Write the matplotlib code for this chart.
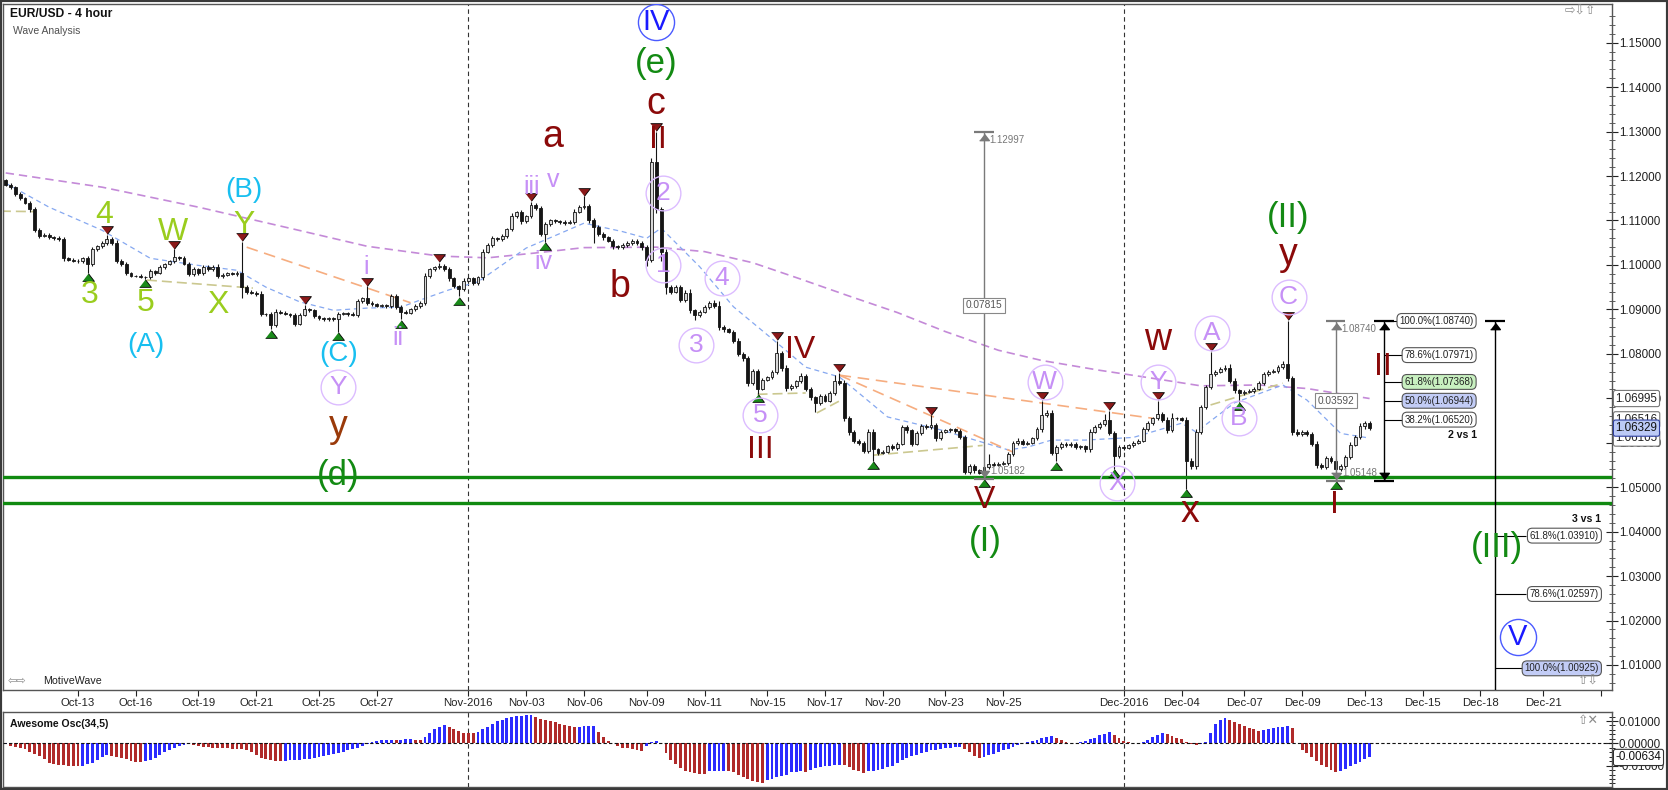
import numpy as np
import pandas as pd
import matplotlib
matplotlib.use("Agg")
import matplotlib.pyplot as plt
from matplotlib import transforms

plt.rcParams['font.family'] = ['Liberation Sans', 'DejaVu Sans']

W, H = 1668, 790

# ---------------- data ----------------
first_open = 1.1190
close = np.array([
    1.1180, 1.1175, 1.1160, 1.1150, 1.1140, 1.1125, 1.1078, 1.1065, 1.1068, 1.1062,
    1.1060, 1.1058, 1.1015, 1.1012, 1.1010, 1.1008, 1.1015, 1.1002, 1.1035, 1.1042,
    1.1050, 1.1058, 1.1050, 1.1010, 1.1002, 1.0982, 1.0975, 1.0976, 1.0974, 1.0973,
    1.0986, 1.0982, 1.0995, 1.1002, 1.1008, 1.1018, 1.1015, 1.1003, 1.0980, 1.0990,
    1.0982, 1.0995, 1.0990, 1.0996, 1.0975, 1.0978, 1.0982, 1.0980, 1.0983, 1.0950,
    1.0940, 1.0938, 1.0935, 1.0890, 1.0890, 1.0865, 1.0895, 1.0893, 1.0890, 1.0888,
    1.0868, 1.0888, 1.0900, 1.0898, 1.0885, 1.0880, 1.0878, 1.0880, 1.0878, 1.0890,
    1.0892, 1.0890, 1.0888, 1.0918, 1.0925, 1.0915, 1.0912, 1.0908, 1.0910, 1.0908,
    1.0930, 1.0905, 1.0895, 1.0893, 1.0900, 1.0908, 1.0915, 1.0975, 1.0990, 1.0995,
    1.0998, 1.0990, 1.0970, 1.0952, 1.0945, 1.0965, 1.0970, 1.0960, 1.0972, 1.1030,
    1.1045, 1.1060, 1.1058, 1.1065, 1.1080, 1.1110, 1.1118, 1.1098, 1.1110, 1.1135,
    1.1128, 1.1070, 1.1092, 1.1100, 1.1098, 1.1096, 1.1094, 1.1097, 1.1120, 1.1130,
    1.1132, 1.1100, 1.1085, 1.1070, 1.1062, 1.1055, 1.1042, 1.1040, 1.1045, 1.1050,
    1.1055, 1.1050, 1.1040, 1.1012, 1.1232, 1.1125, 1.1030, 1.0950, 1.0940, 1.0950,
    1.0922, 1.0938, 1.0898, 1.0888, 1.0895, 1.0905, 1.0915, 1.0908, 1.0860, 1.0855,
    1.0850, 1.0830, 1.0800, 1.0790, 1.0735, 1.0762, 1.0722, 1.0742, 1.0748, 1.0760,
    1.0802, 1.0768, 1.0723, 1.0728, 1.0738, 1.0750, 1.0722, 1.0702, 1.0690, 1.0705,
    1.0695, 1.0712, 1.0738, 1.0735, 1.0655, 1.0624, 1.0605, 1.0600, 1.0582, 1.0625,
    1.0585, 1.0578, 1.0580, 1.0592, 1.0588, 1.0598, 1.0635, 1.0628, 1.0598, 1.0622,
    1.0638, 1.0635, 1.0640, 1.0610, 1.0625, 1.0628, 1.0630, 1.0626, 1.0612, 1.0535,
    1.0548, 1.0538, 1.0533, 1.0545, 1.0552, 1.0550, 1.0553, 1.0555, 1.0575, 1.0600,
    1.0605, 1.0598, 1.0600, 1.0610, 1.0630, 1.0662, 1.0668, 1.0578, 1.0590, 1.0598,
    1.0595, 1.0598, 1.0590, 1.0592, 1.0585, 1.0625, 1.0635, 1.0642, 1.0652, 1.0622,
    1.0570, 1.0590, 1.0588, 1.0594, 1.0600, 1.0605, 1.0630, 1.0645, 1.0655, 1.0665,
    1.0652, 1.0628, 1.0655, 1.0655, 1.0652, 1.0560, 1.0547, 1.0625, 1.0680, 1.0725,
    1.0755, 1.0760, 1.0765, 1.0768, 1.0740, 1.0718, 1.0712, 1.0715, 1.0716, 1.0722,
    1.0735, 1.0755, 1.0760, 1.0762, 1.0770, 1.0778, 1.0745, 1.0625, 1.0620, 1.0624,
    1.0620, 1.0598, 1.0550, 1.0545, 1.0565, 1.0560, 1.0540, 1.0548, 1.0568, 1.0596,
    1.0612, 1.0637, 1.0645, 1.06329,
])

# wick lengths in pips above the body top / below the body bottom
up_wick = np.array([
    3, 4, 3, 5, 3, 4, 6, 4, 3, 4, 3, 4, 5, 3, 4, 3, 4, 5, 6, 4,
    4, 10, 4, 6, 3, 5, 3, 2, 3, 2, 4, 3, 5, 3, 4, 17, 3, 5, 4, 5,
    3, 5, 4, 5, 6, 3, 3, 2, 3, 69, 5, 4, 4, 6, 3, 5, 5, 3, 3, 3,
    5, 4, 10, 3, 4, 3, 2, 3, 3, 4, 3, 3, 4, 5, 4, 27, 4, 3, 3, 3,
    4, 5, 4, 3, 3, 4, 4, 6, 4, 3, 7, 4, 5, 4, 4, 5, 3, 4, 4, 6,
    5, 4, 3, 4, 4, 6, 4, 5, 3, 7, 4, 5, 5, 3, 3, 3, 4, 3, 5, 4,
    23, 5, 6, 4, 4, 3, 4, 3, 4, 3, 4, 4, 4, 5, 8, 68, 6, 5, 4, 6,
    5, 6, 7, 4, 4, 5, 5, 6, 10, 4, 3, 4, 5, 4, 6, 5, 5, 4, 3, 4,
    28, 5, 6, 4, 4, 8, 5, 4, 4, 5, 4, 5, 14, 20, 6, 5, 4, 4, 5, 5,
    6, 4, 3, 4, 5, 4, 6, 4, 4, 5, 4, 5, 22, 5, 4, 3, 3, 4, 4, 5,
    5, 4, 4, 6, 23, 4, 3, 3, 4, 5, 6, 4, 3, 4, 5, 33, 5, 6, 5, 4,
    4, 3, 4, 3, 4, 5, 4, 4, 13, 20, 5, 4, 3, 3, 4, 4, 5, 4, 4, 30,
    5, 5, 13, 4, 4, 5, 5, 6, 5, 5, 50, 4, 5, 6, 10, 5, 4, 3, 4, 4,
    5, 4, 4, 5, 4, 5, 96, 6, 5, 4, 4, 5, 5, 4, 6, 5, 4, 4, 4, 5,
    5, 8, 5, 4,
])
dn_wick = np.array([
    3, 4, 4, 3, 4, 5, 4, 5, 3, 4, 3, 4, 5, 4, 3, 4, 3, 20, 4, 3,
    3, 4, 4, 5, 4, 5, 3, 3, 3, 4, 4, 4, 3, 4, 3, 4, 4, 4, 5, 4,
    5, 4, 3, 4, 5, 4, 3, 3, 4, 25, 5, 4, 4, 5, 4, 10, 4, 3, 3, 4,
    5, 4, 3, 4, 4, 3, 3, 3, 3, 28, 3, 4, 3, 4, 3, 4, 4, 3, 3, 4,
    4, 5, 17, 4, 4, 3, 4, 4, 4, 3, 3, 4, 5, 4, 15, 4, 4, 5, 4, 5,
    4, 4, 4, 3, 4, 4, 5, 6, 4, 4, 5, 6, 18, 4, 3, 3, 4, 3, 4, 4,
    4, 6, 35, 5, 5, 4, 5, 4, 3, 4, 4, 5, 6, 14, 6, 8, 20, 15, 5, 4,
    6, 5, 6, 12, 4, 4, 4, 5, 6, 5, 4, 6, 5, 6, 7, 5, 12, 4, 4, 4,
    5, 6, 6, 4, 4, 4, 6, 5, 20, 4, 4, 4, 4, 5, 6, 6, 5, 4, 6, 5,
    25, 5, 4, 4, 4, 4, 4, 5, 6, 4, 4, 4, 4, 5, 4, 3, 3, 3, 4, 5,
    5, 5, 4, 14, 4, 3, 3, 3, 4, 5, 4, 4, 4, 3, 4, 5, 5, 6, 20, 4,
    4, 4, 5, 4, 5, 5, 4, 3, 4, 5, 28, 4, 4, 3, 4, 3, 4, 4, 4, 4,
    5, 6, 4, 3, 4, 63, 5, 6, 5, 5, 5, 4, 4, 4, 6, 5, 20, 4, 3, 4,
    4, 4, 4, 3, 4, 4, 6, 8, 5, 4, 5, 6, 6, 5, 4, 5, 25, 4, 4, 5,
    4, 4, 5, 4,
])

# Awesome Oscillator (34,5), in units of 0.0001
ao = np.array([
    -5, -12, -17, -22, -27, -37, -47, -57, -72, -87,
    -92, -97, -99, -100, -101, -102, -100, -94, -87, -76,
    -62, -54, -55, -60, -64, -72, -79, -83, -84, -80,
    -74, -64, -52, -40, -28, -19, -10, -6, -5, -9,
    -13, -16, -18, -19, -20, -21, -22, -24, -25, -27,
    -32, -40, -52, -65, -72, -77, -80, -81, -79, -77,
    -76, -74, -72, -69, -65, -61, -58, -53, -47, -42,
    -37, -31, -25, -19, -10, -2, 6, 12, 14, 16,
    17, 16, 17, 19, 20, 17, 15, 30, 48, 63,
    72, 80, 72, 62, 53, 48, 45, 44, 50, 62,
    74, 88, 98, 106, 114, 118, 122, 124, 125, 126,
    118, 110, 104, 100, 95, 88, 82, 78, 74, 75,
    76, 77, 78, 50, 30, 10, 0, -10, -19, -23,
    -27, -30, -34, -12, 5, 10, 0, -42, -75, -94,
    -110, -125, -130, -134, -136, -137, -125, -124, -123, -122,
    -126, -130, -140, -150, -160, -168, -173, -176, -165, -158,
    -152, -146, -140, -130, -127, -126, -128, -120, -113, -108,
    -104, -101, -99, -97, -98, -108, -118, -126, -132, -126,
    -122, -120, -115, -108, -100, -88, -76, -66, -58, -51,
    -45, -38, -32, -28, -25, -22, -20, -17, -15, -25,
    -40, -55, -67, -60, -53, -46, -40, -32, -24, -16,
    -9, 2, 8, 12, 17, 25, 30, 33, 22, 14,
    8, 3, 2, 7, 12, 18, 26, 35, 43, 50,
    35, 22, 12, 7, 3, 2, 7, 17, 27, 36,
    45, 42, 33, 26, 18, 5, -4, -9, -3, 7,
    45, 85, 104, 112, 104, 95, 85, 78, 68, 62,
    57, 60, 63, 67, 72, 75, 78, 67, 3, -30,
    -45, -60, -80, -97, -108, -120, -127, -126, -115, -104,
    -95, -82, -72, -63.4,
]) * 1e-4

# moving averages (sampled along the dashed curves)
ma_slow_idx = [0, 20, 40, 60, 75, 90, 100, 110, 120, 135, 145, 155, 165, 175,
               185, 195, 206, 215, 227, 238, 248, 260, 270, 283]
ma_slow = [1.1207, 1.1175, 1.1130, 1.1080, 1.1042, 1.1020, 1.1016, 1.1027, 1.1039,
           1.1040, 1.1030, 1.1005, 1.0968, 1.0930, 1.0893, 1.0850, 1.0808, 1.0785,
           1.0763, 1.0745, 1.0728, 1.0730, 1.0722, 1.06995]
ma_fast_idx = [0, 9, 20, 30, 40, 48, 54, 61, 68, 75, 82, 86, 92, 98, 108, 120, 128,
               133, 136, 144, 151, 161, 166, 173, 183, 194, 203, 208, 212, 217, 224,
               234, 244, 247, 255, 265, 270, 277, 283]
ma_fast = [1.1184, 1.1130, 1.1078, 1.1015, 1.0999, 1.0988, 1.0950, 1.0917, 1.0898,
           1.0903, 1.0905, 1.0921, 1.0944, 1.0962, 1.1038, 1.1094, 1.1075, 1.1060,
           1.1083, 1.0996, 1.0906, 1.0816, 1.0770, 1.0748, 1.0658, 1.0629, 1.0600,
           1.0584, 1.0590, 1.0606, 1.0606, 1.0612, 1.0644, 1.0624, 1.0690, 1.0730,
           1.0696, 1.0621, 1.06105]

# hand drawn trend lines (index, price) pairs
resistance_lines = [((50, 1.1040), (84, 1.0915)),
                    ((173, 1.0752), (209, 1.0579)),
                    ((173, 1.0752), (238, 1.0655))]
support_lines = [((-1, 1.1121), (6, 1.1120)),
                 ((29.3, 1.0966), (51.3, 1.0948)),
                 ((156, 1.0709), (166, 1.0712)),
                 ((168.3, 1.0667), (173.7, 1.0698)),
                 ((180, 1.0572), (202.7, 1.0594)),
                 ((250, 1.0685), (265, 1.0734))]

peaks = [21, 35, 49, 62, 75, 90, 109, 120, 135, 160, 173, 192, 215, 229, 239, 250, 266]
troughs = [17, 29, 55, 69, 82, 94, 112, 156, 180, 203, 218, 230, 245, 256, 276]

zone_levels = [1.0522, 1.0464]

wave_top, wave1_low = 1.12997, 1.05182
wave2_top, last_low = 1.08740, 1.05148
wave1_low_idx, last_low_idx = 203, 276
retrace_levels = [1.0, 0.786, 0.618, 0.5, 0.382]
extend_levels = [0.618, 0.786, 1.0]

right_tags = [1.06995, 1.06516, 1.06105]

tick_dates = ['2016-10-13', '2016-10-16', '2016-10-19', '2016-10-21', '2016-10-25',
              '2016-10-27', '2016-11-01', '2016-11-03', '2016-11-06', '2016-11-09',
              '2016-11-11', '2016-11-15', '2016-11-17', '2016-11-20', '2016-11-23',
              '2016-11-25', '2016-12-01', '2016-12-04', '2016-12-07', '2016-12-09',
              '2016-12-13', '2016-12-15', '2016-12-18', '2016-12-21', '2016-12-23']
month_starts = ['2016-11-01', '2016-12-01']

# wave labels: text, candle index, price, style
wave_labels = [
    ("3", 17.5, 1.0932, 'yg'), ("4", 20.4, 1.1112, 'yg'), ("5", 29.1, 1.0914, 'yg'),
    ("W", 34.7, 1.1074, 'yg'), ("X", 44.0, 1.0910, 'yg'), ("Y", 49.4, 1.1090, 'yg'),
    ("(B)", 49.4, 1.1168, 'cy'), ("(A)", 29.1, 1.0820, 'cy'), ("(C)", 69.0, 1.0800, 'cy'),
    ("Y", 69.0, 1.0725, 'vc'), ("y", 69.0, 1.0636, 'br'), ("(d)", 69.0, 1.0527, 'gr'),
    ("i", 74.8, 1.0995, 'vi'), ("ii", 81.4, 1.0836, 'vi'), ("iii", 109.2, 1.1175, 'vi'),
    ("v", 113.5, 1.1190, 'vi'), ("iv", 111.5, 1.1007, 'vi'),
    ("a", 113.5, 1.1288, 'dr'), ("b", 127.5, 1.0950, 'dr'), ("c", 134.9, 1.1362, 'dr'),
    ("II", 135.3, 1.1281, 'dR'), ("(e)", 134.9, 1.1454, 'gr'), ("IV", 134.9, 1.1547, 'bc'),
    ("2", 136.4, 1.1162, 'vc'), ("1", 136.4, 1.1000, 'vc'), ("3", 143.2, 1.0820, 'vc'),
    ("4", 148.6, 1.0971, 'vc'), ("5", 156.5, 1.0662, 'vc'),
    ("III", 156.5, 1.0584, 'dR'), ("IV", 164.8, 1.0809, 'dR'), ("V", 203.2, 1.0471, 'dR'),
    ("(I)", 203.2, 1.0377, 'gr'),
    ("W", 215.6, 1.0737, 'vc'), ("X", 230.6, 1.0510, 'vc'), ("w", 239.1, 1.0831, 'dr'),
    ("Y", 239.1, 1.0737, 'vc'), ("x", 245.7, 1.0445, 'dr'),
    ("A", 250.3, 1.0847, 'vc'), ("B", 255.9, 1.0656, 'vc'), ("C", 266.2, 1.0928, 'vc'),
    ("y", 266.2, 1.1023, 'dr'), ("(II)", 266.2, 1.1107, 'gr'),
    ("I", 275.8, 1.0460, 'dR'), ("II", 285.7, 1.0770, 'dR'),
    ("(III)", 309.4, 1.0365, 'gr'), ("V", 313.8, 1.0163, 'bc'),
]

# ---------------- time axis ----------------
def candle_times(start, end):
    out = []
    for day in pd.date_range(start.normalize(), end, freq='D'):
        wd = day.weekday()
        if wd == 5:
            continue
        hours = [20] if wd == 6 else range(0, 24, 4)
        for h in hours:
            t = day + pd.Timedelta(hours=h)
            if start <= t <= end:
                out.append(t)
    return pd.DatetimeIndex(out)

times = candle_times(pd.Timestamp('2016-10-10 12:00'), pd.Timestamp('2016-12-24'))

def at(ts):
    return int(np.searchsorted(times, pd.Timestamp(ts)))

fib1_x = at('2016-12-13 16:00')
fib2_x = at('2016-12-19 08:00')

# ---------------- figure ----------------
fig = plt.figure(figsize=(W / 100, H / 100), dpi=100)
ax = fig.add_axes([3 / W, 1 - 690 / H, 1609 / W, 686 / H])
ax2 = fig.add_axes([3 / W, 1 - 787 / H, 1609 / W, 75 / H])
xlim = (-0.56, 333.3)
ax.set_xlim(*xlim)
ax2.set_xlim(*xlim)
ax.set_ylim(1.004375, 1.158706)
ax2.set_ylim(-0.019596, 0.014036)

n = len(close)
idx = np.arange(n)
opn = np.r_[first_open, close[:-1]]
hi = np.maximum(opn, close) + up_wick * 1e-4
lo = np.minimum(opn, close) - dn_wick * 1e-4

# moving averages and trend lines
ax.plot(ma_slow_idx, ma_slow, color='#c48ad8', lw=1.2, dashes=(5, 3), zorder=2)
ax.plot(ma_fast_idx, ma_fast, color='#86a8f0', lw=0.9, dashes=(4, 3), zorder=2)
for (xa, ya), (xb, yb) in resistance_lines:
    ax.plot([xa, xb], [ya, yb], color='#f6ad80', lw=1.2, dashes=(7, 4), zorder=2)
for (xa, ya), (xb, yb) in support_lines:
    ax.plot([xa, xb], [ya, yb], color='#cbc890', lw=1.2, dashes=(6, 3), zorder=2)

# month separators
for d in month_starts:
    for a in (ax, ax2):
        a.axvline(at(d), color='#333333', lw=0.8, dashes=(4, 3), zorder=1)

# candles
ax.vlines(idx, lo, hi, color='#151515', lw=0.8, zorder=3)
body = np.maximum(np.abs(close - opn), 0.00008)
bottom = (opn + close) / 2 - body / 2
bull = close >= opn
ax.bar(idx[bull], body[bull], bottom=bottom[bull], width=0.6, color='#d8d8d8',
       edgecolor='#151515', linewidth=0.6, zorder=4)
ax.bar(idx[~bull], body[~bull], bottom=bottom[~bull], width=0.6, color='#151515',
       edgecolor='#151515', linewidth=0.6, zorder=4)

# support zone lines
for z in zone_levels:
    ax.axhline(z, color='#108a10', lw=2.4, zorder=5)

# pivot triangles
tri_dn = [(-1, 0.65), (1, 0.65), (0, -0.65)]
tri_up = [(-1, -0.65), (1, -0.65), (0, 0.65)]
above = transforms.offset_copy(ax.transData, fig=fig, y=4.5, units='dots')
below = transforms.offset_copy(ax.transData, fig=fig, y=-4.5, units='dots')
ax.plot(peaks, hi[peaks], ls='none', marker=tri_dn, ms=8.5, mfc='#8b1a1a', mec='black',
        mew=0.6, transform=above, zorder=6)
ax.plot(troughs, lo[troughs], ls='none', marker=tri_up, ms=8.5, mfc='#1a8a1a', mec='black',
        mew=0.6, transform=below, zorder=6)

# wave labels
styles = {
    'yg': ('#9acd1e', 23), 'cy': ('#18bff0', 20), 'vi': ('#c690f6', 18),
    'vc': ('#c690f6', 19), 'dr': ('#8b0a0a', 27), 'dR': ('#8b0a0a', 23),
    'gr': ('#138a13', 25), 'bc': ('#1a1aff', 21), 'br': ('#9a3a0a', 27),
}
for txt, xi, yp, kind in wave_labels:
    col, size = styles[kind]
    ax.text(xi, yp, txt, ha='center', va='center', color=col, fontsize=size, zorder=8)
    if kind == 'vc':
        ax.plot(xi, yp, 'o', ms=25, mfc='none', mec='#dcbcff', mew=1.0, zorder=8)
    elif kind == 'bc':
        ax.plot(xi, yp, 'o', ms=26, mfc='none', mec='#4a5aff', mew=1.0, zorder=8)


# measuring tools
def tool(xi, top, bot, col, arrow_bottom=True, bottom_bar=True):
    ax.vlines(xi, bot, top, color=col, lw=1.0, zorder=6)
    ax.hlines(top, xi - 2, xi + 2, color=col, lw=1.6, zorder=6)
    dn = transforms.offset_copy(ax.transData, fig=fig, y=-5, units='dots')
    ax.plot(xi, top, ls='none', marker=tri_up, ms=7, mfc=col, mec=col, transform=dn, zorder=6)
    if arrow_bottom:
        up = transforms.offset_copy(ax.transData, fig=fig, y=5, units='dots')
        ax.plot(xi, bot, ls='none', marker=tri_dn, ms=7, mfc=col, mec=col, transform=up, zorder=6)
    if bottom_bar:
        ax.hlines(bot, xi - 2, xi + 2, color=col, lw=1.6, zorder=6)


gray = '#7a7a7a'
lab = dict(textcoords='offset pixels', fontsize=7, color='#777777', zorder=9)
for xi, top, bot in [(wave1_low_idx, wave_top, wave1_low), (last_low_idx, wave2_top, last_low)]:
    tool(xi, top, bot, gray)
    ax.annotate(f"{top:.5f}", (xi, top), xytext=(5, -8), ha='left', va='center', **lab)
    ax.annotate(f"{bot:.5f}", (xi, bot), xytext=(6, 8), ha='left', va='center', **lab)
    ax.text(xi, (top + bot) / 2, f"{top - bot:.5f}", ha='center', va='center', fontsize=7.3,
            color='#555555', zorder=9,
            bbox=dict(boxstyle='square,pad=0.25', fc='white', ec='#888888', lw=0.8))

# retracement of the last swing
tool(fib1_x, wave2_top, last_low, 'black')
for r in retrace_levels:
    p = last_low + r * (wave2_top - last_low)
    ax.hlines(p, fib1_x, fib1_x + 4, color='black', lw=0.8, zorder=6)
    fc = {0.618: '#c8f0c0', 0.5: '#c2ccf6'}.get(r, 'white')
    ax.text(fib1_x + 18.6, p, f"{r * 100:.1f}%({p:.5f})", ha='right', va='center', fontsize=7,
            color='#222222', zorder=9,
            bbox=dict(boxstyle='round,pad=0.25,rounding_size=0.5', fc=fc, ec='#555555', lw=0.8))
ax.text(fib1_x + 19.2, 1.0617, "2 vs 1", ha='right', va='center', fontsize=7.6,
        fontweight='bold', color='#111111', zorder=9)

# projection of wave (III)
tool(fib2_x, wave2_top, ax.get_ylim()[0], 'black', arrow_bottom=False, bottom_bar=False)
for r in extend_levels:
    p = wave2_top - r * (wave_top - wave1_low)
    ax.hlines(p, fib2_x, fib2_x + 6.5, color='black', lw=0.8, zorder=6)
    fc = '#c2ccf6' if r == 1.0 else 'white'
    ax.text(fib2_x + 21.6, p, f"{r * 100:.1f}%({p:.5f})", ha='right', va='center', fontsize=7,
            color='#222222', zorder=9,
            bbox=dict(boxstyle='round,pad=0.25,rounding_size=0.5', fc=fc, ec='#555555', lw=0.8))
ax.text(fib2_x + 22.0, 1.0428, "3 vs 1", ha='right', va='center', fontsize=7.6,
        fontweight='bold', color='#111111', zorder=9)

# axes styling - price
ax.yaxis.tick_right()
majors = np.round(np.arange(1.01, 1.1501, 0.01), 2)
ax.set_yticks(majors)
ax.set_yticklabels([f"{v:.5f}" for v in majors])
ax.set_yticks(np.round(np.arange(1.006, 1.158, 0.002), 3), minor=True)
ax.tick_params(axis='y', which='major', direction='inout', length=8, width=0.8,
               labelsize=8.4, pad=1, colors='#222222')
ax.tick_params(axis='y', which='minor', direction='inout', length=4, width=0.6, colors='#444444')

tick_pos = [at(d) for d in tick_dates]
tick_lab = []
for d in tick_dates[:-1]:
    t = pd.Timestamp(d)
    tick_lab.append(t.strftime('%b-%Y') if t.day == 1 else t.strftime('%b-%d'))
tick_lab.append('')
ax.set_xticks(tick_pos)
ax.set_xticklabels(tick_lab)
ax.tick_params(axis='x', direction='out', length=4, width=0.8, labelsize=8.2, pad=2,
               colors='#222222')
for s in ax.spines.values():
    s.set_color('#555555')
    s.set_linewidth(1.0)

tag_tr = transforms.blended_transform_factory(ax.transAxes, ax.transData)
for v in right_tags:
    ax.text(1.0022, v, f"{v:.5f}", transform=tag_tr, ha='left', va='center', fontsize=8.4,
            color='#222222', clip_on=False, zorder=10,
            bbox=dict(boxstyle='round,pad=0.18', fc='white', ec='#777777', lw=0.8))
ax.text(1.0022, close[-1], f"{close[-1]:.5f}", transform=tag_tr, ha='left', va='center',
        fontsize=8.4, color='#111111', clip_on=False, zorder=11,
        bbox=dict(boxstyle='round,pad=0.18', fc='#bccaf6', ec='#3040a0', lw=0.8))

# oscillator
rising = np.r_[True, ao[1:] > ao[:-1]]
ax2.bar(idx, ao, width=0.6, color=np.where(rising, '#2b2bff', '#b02a2a'), zorder=3)
ax2.axhline(0, color='#111111', lw=0.8, dashes=(3, 2), zorder=4)
ax2.set_xticks([])
ax2.yaxis.tick_right()
ax2.set_yticks([0.01, 0.0, -0.01])
ax2.set_yticklabels(["0.01000", "0.00000", "-0.01000"])
ax2.tick_params(axis='y', direction='inout', length=8, width=0.8, labelsize=8.4, pad=1,
                colors='#222222')
ax2.set_yticks(np.arange(-0.018, 0.014, 0.002), minor=True)
ax2.tick_params(axis='y', which='minor', direction='inout', length=4, width=0.6)
for s in ax2.spines.values():
    s.set_color('#555555')
    s.set_linewidth(1.0)
tag_tr2 = transforms.blended_transform_factory(ax2.transAxes, ax2.transData)
ax2.text(1.0022, ao[-1], f"{ao[-1]:.5f}", transform=tag_tr2, ha='left', va='center',
         fontsize=8.4, color='#111111', clip_on=False, zorder=10,
         bbox=dict(boxstyle='round,pad=0.18', fc='white', ec='#333333', lw=0.8))

# captions
def px(x, y):
    return x / W, 1 - y / H

fig.text(*px(10, 14), "EUR/USD - 4 hour", fontsize=8.7, fontweight='bold', color='#111111',
         va='center', ha='left')
fig.text(*px(13, 31), "Wave Analysis", fontsize=7.5, color='#505050', va='center', ha='left')
fig.text(*px(8, 681), "⇦⇨", fontsize=8, color='#8a8a8a', va='center', ha='left')
fig.text(*px(43, 681), "MotiveWave", fontsize=7.7, color='#222222', va='center', ha='left')
fig.text(*px(10, 724), "Awesome Osc(34,5)", fontsize=7.6, fontweight='bold', color='#111111',
         va='center', ha='left')
fig.text(*px(1565, 12), "⇨⇩⇧", fontsize=9, color='#8a8a8a', va='center', ha='left')
fig.text(*px(1578, 682), "⇧⇩", fontsize=9, color='#8a8a8a', va='center', ha='left')
fig.text(*px(1578, 721), "⇧✕", fontsize=9, color='#8a8a8a', va='center', ha='left')

# outer frame
fig.patches.append(plt.Rectangle((0, 0), 1, 1, transform=fig.transFigure, fill=False,
                                 ec='#3a3a3a', lw=3))

fig.savefig('out.png', dpi=100)
